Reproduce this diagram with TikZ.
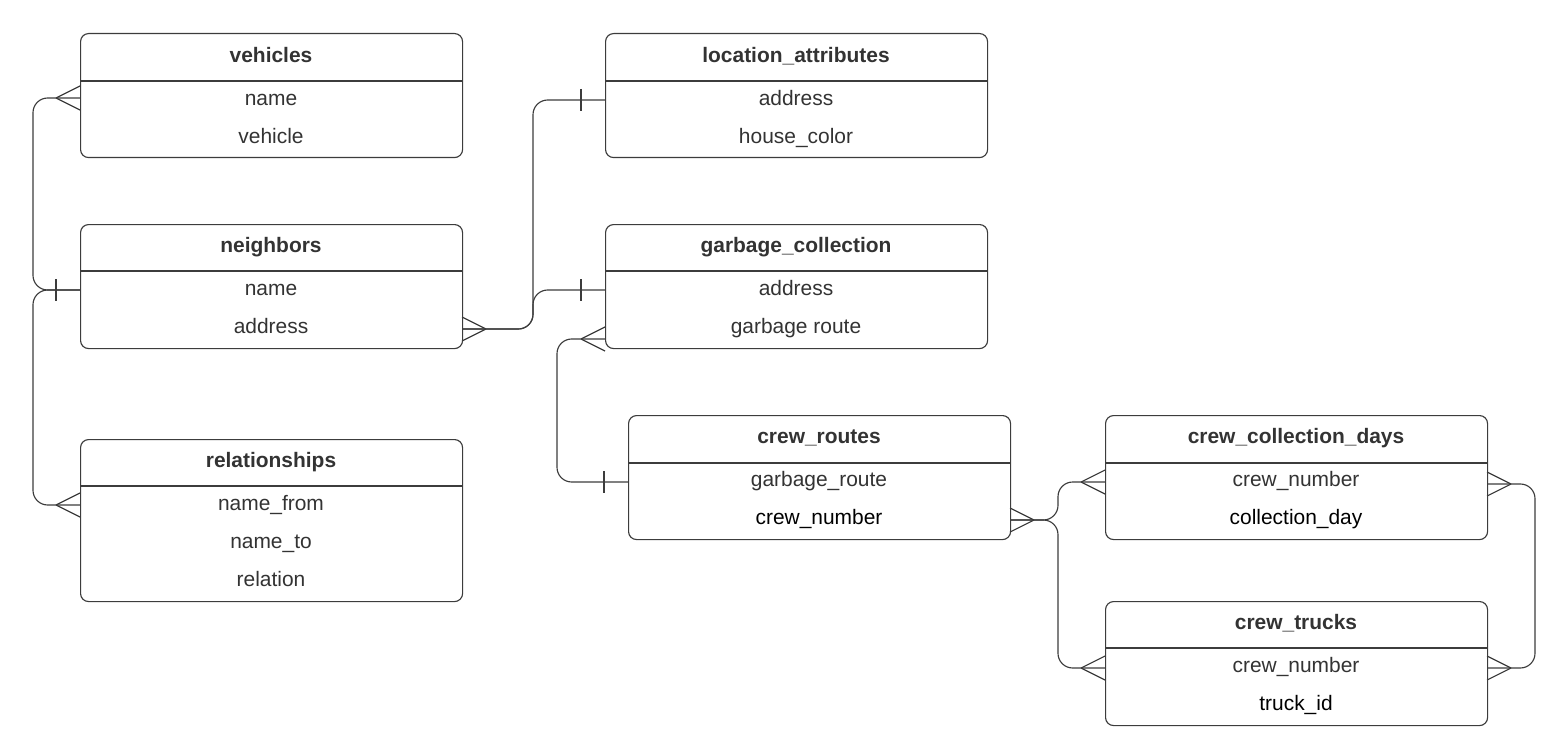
\documentclass[tikz,border=0pt]{standalone}
\usepackage{fontspec}
\setmainfont{Liberation Sans}
\begin{document}
\begin{tikzpicture}[x=0.75pt,y=-0.75pt,
  ln/.style={draw=lncol, line width=0.85pt},
  box/.style={ln, rounded corners=6pt, anchor=north west, minimum width=286.5pt, inner sep=0pt, fill=white},
  conn/.style={ln, rounded corners=11pt},
  txt/.style={inner sep=0pt, text height=13pt, text depth=2pt},
  title/.style={txt, font=\bfseries\fontsize{15.7}{19}\selectfont, text=txtcol},
  fld/.style={txt, font=\fontsize{15.7}{19}\selectfont, text=txtcol},
  fldk/.style={txt, font=\fontsize{15.7}{19}\selectfont, text=black},
  crowL/.pic={\draw[ln] (-24,0) -- (0,-12) (-24,0) -- (0,12);},
  crowR/.pic={\draw[ln] (24,0) -- (0,-12) (24,0) -- (0,12);},
  barL/.pic={\draw[ln] (-24,-11) -- (-24,11);}
]
\definecolor{lncol}{HTML}{3C3C3C}
\definecolor{txtcol}{HTML}{333333}
\useasboundingbox (0,0) rectangle (1560,756);

% connectors (drawn first, boxes on top)
\draw[conn] (80,98) coordinate (vehL) -- (33,98) -- (33,290) -- (80,290) coordinate (nbL);
\draw[conn] (nbL) -- (33,290) -- (33,505) -- (80,505) coordinate (relL);
\draw[conn] (462,329) coordinate (nbR) -- (533,329) -- (533,100) -- (605,100) coordinate (locL);
\draw[conn] (nbR) -- (533,329) -- (533,290) -- (605,290) coordinate (gcL1);
\draw[conn] (605,339) coordinate (gcL2) -- (557,339) -- (557,482) -- (628,482) coordinate (crL);
\draw[conn] (1010,520) coordinate (crR) -- (1058,520) -- (1058,482) -- (1105,482) coordinate (ccdL);
\draw[conn] (crR) -- (1058,520) -- (1058,668) -- (1105,668) coordinate (ctL);
\draw[conn] (1487,484) coordinate (ccdR) -- (1535,484) -- (1535,668) -- (1487,668) coordinate (ctR);

% tables
\node[box, minimum height=93pt] (veh) at (80,33) {};
\draw[ln] (veh.west |- 0,81) -- (veh.east |- 0,81);
\node[title] (vehT) at (271,55) {vehicles};
\node[fld] (vehF1) at (271,98) {name};
\node[fld] (vehF2) at (271,136) {vehicle};

\node[box, minimum height=93pt] (nb) at (80,224) {};
\draw[ln] (nb.west |- 0,271) -- (nb.east |- 0,271);
\node[title] (nbT) at (271,245) {neighbors};
\node[fld] (nbF1) at (271,288) {name};
\node[fld] (nbF2) at (271,326) {address};

\node[box, minimum height=121.5pt] (rel) at (80,439) {};
\draw[ln] (rel.west |- 0,486) -- (rel.east |- 0,486);
\node[title] (relT) at (271,460) {relationships};
\node[fld] (relF1) at (271,503) {name\_from};
\node[fld] (relF2) at (271,541) {name\_to};
\node[fld] (relF3) at (271,579) {relation};

\node[box, minimum height=93pt] (loc) at (605,33) {};
\draw[ln] (loc.west |- 0,81) -- (loc.east |- 0,81);
\node[title] (locT) at (796,55) {location\_attributes};
\node[fld] (locF1) at (796,98) {address};
\node[fld] (locF2) at (796,136) {house\_color};

\node[box, minimum height=93pt] (gc) at (605,224) {};
\draw[ln] (gc.west |- 0,271) -- (gc.east |- 0,271);
\node[title] (gcT) at (796,245) {garbage\_collection};
\node[fld] (gcF1) at (796,288) {address};
\node[fld] (gcF2) at (796,326) {garbage route};

\node[box, minimum height=93pt] (cr) at (628,415) {};
\draw[ln] (cr.west |- 0,463) -- (cr.east |- 0,463);
\node[title] (crT) at (819,436) {crew\_routes};
\node[fld] (crF1) at (819,479) {garbage\_route};
\node[fldk] (crF2) at (819,517) {crew\_number};

\node[box, minimum height=93pt] (ccd) at (1105,415) {};
\draw[ln] (ccd.west |- 0,463) -- (ccd.east |- 0,463);
\node[title] (ccdT) at (1296,436) {crew\_collection\_days};
\node[fld] (ccdF1) at (1296,479) {crew\_number};
\node[fldk] (ccdF2) at (1296,517) {collection\_day};

\node[box, minimum height=93pt] (ct) at (1105,601) {};
\draw[ln] (ct.west |- 0,648) -- (ct.east |- 0,648);
\node[title] (ctT) at (1296,622) {crew\_trucks};
\node[fld] (ctF1) at (1296,665) {crew\_number};
\node[fldk] (ctF2) at (1296,703) {truck\_id};

% end markers
\pic at (vehL) {crowL};
\pic at (relL) {crowL};
\pic at (nbL) {barL};
\pic at (nbR) {crowR};
\pic at (locL) {barL};
\pic at (gcL1) {barL};
\pic at (gcL2) {crowL};
\pic at (crL) {barL};
\pic at (crR) {crowR};
\pic at (ccdL) {crowL};
\pic at (ctL) {crowL};
\pic at (ccdR) {crowR};
\pic at (ctR) {crowR};
\end{tikzpicture}
\end{document}
